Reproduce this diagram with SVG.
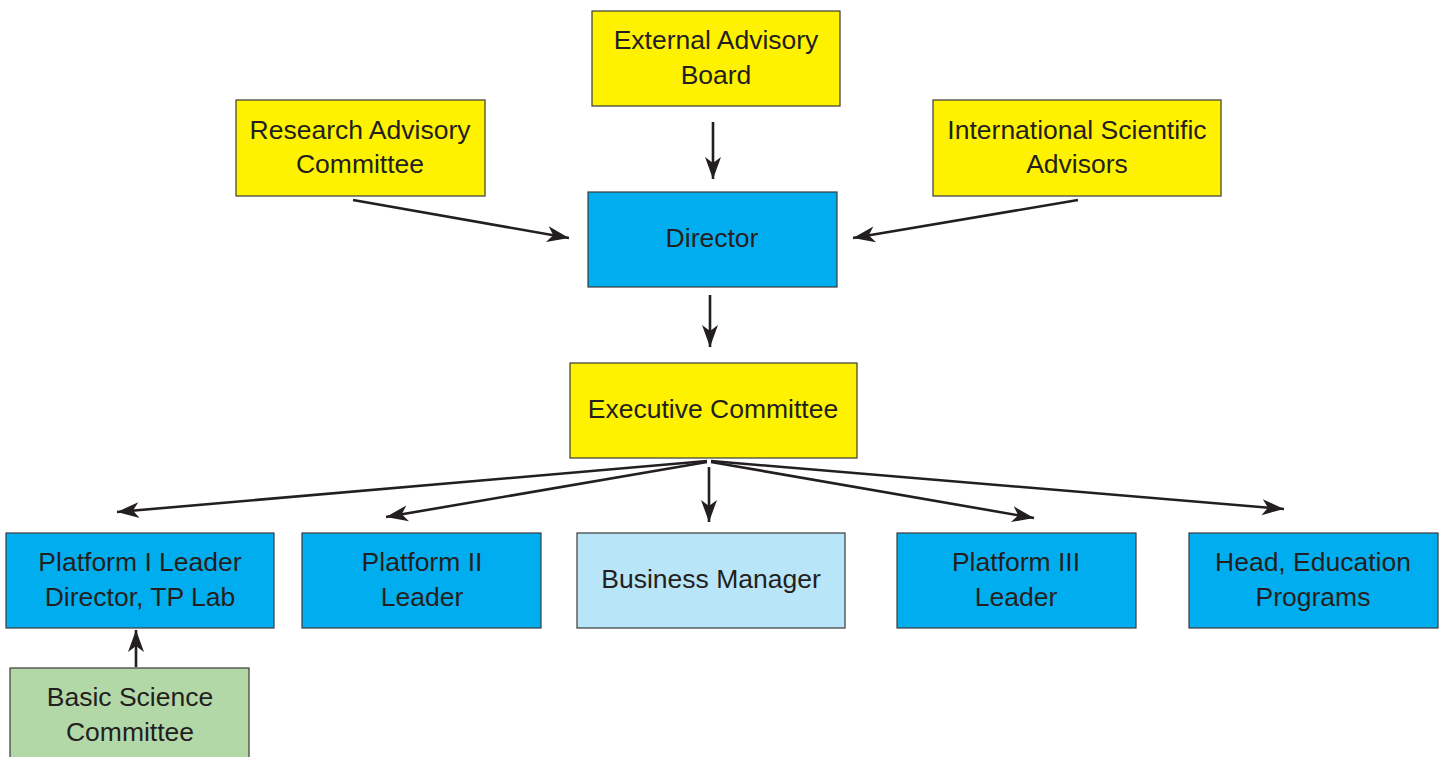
<svg xmlns="http://www.w3.org/2000/svg" width="1440" height="757" viewBox="0 0 1440 757">
<style>
.box{stroke:#3a3a3a;stroke-width:1.2}
.y{fill:#FFF200}
.b{fill:#00AEEF}
.lb{fill:#B9E5F8}
.g{fill:#B3D8A8}
text{font-family:"Liberation Sans",Arial,sans-serif;font-size:26.5px;fill:#231F20;text-anchor:middle}
.c{stroke:#231F20;stroke-width:2.6;fill:none;marker-end:url(#ah)}
</style>
<defs>
<marker id="ah" markerUnits="userSpaceOnUse" markerWidth="26" markerHeight="20" refX="22" refY="9" orient="auto" viewBox="0 0 26 20">
<path d="M22,9 L0,1 L6,9 L0,17 Z" fill="#231F20"/>
</marker>
</defs>
<g id="external-advisory-board"><rect class="box y" x="592" y="11" width="248" height="95"/><text x="716" y="49">External Advisory</text><text x="716" y="84">Board</text></g>
<g id="research-advisory-committee"><rect class="box y" x="236" y="100" width="249" height="96"/><text x="360" y="139">Research Advisory</text><text x="360" y="173">Committee</text></g>
<g id="international-scientific-advisors"><rect class="box y" x="933" y="100" width="288" height="96"/><text x="1077" y="139">International Scientific</text><text x="1077" y="173">Advisors</text></g>
<g id="director"><rect class="box b" x="588" y="192" width="249" height="95"/><text x="712" y="247">Director</text></g>
<g id="executive-committee"><rect class="box y" x="570" y="363" width="287" height="95"/><text x="713" y="418">Executive Committee</text></g>
<g id="platform-1"><rect class="box b" x="6" y="533" width="268" height="95"/><text x="140" y="571">Platform I Leader</text><text x="140" y="606">Director, TP Lab</text></g>
<g id="platform-2"><rect class="box b" x="302" y="533" width="239" height="95"/><text x="422" y="571">Platform II</text><text x="422" y="606">Leader</text></g>
<g id="business-manager"><rect class="box lb" x="577" y="533" width="268" height="95"/><text x="711" y="588">Business Manager</text></g>
<g id="platform-3"><rect class="box b" x="897" y="533" width="239" height="95"/><text x="1016" y="571">Platform III</text><text x="1016" y="606">Leader</text></g>
<g id="head-education"><rect class="box b" x="1189" y="533" width="249" height="95"/><text x="1313" y="571">Head, Education</text><text x="1313" y="606">Programs</text></g>
<g id="basic-science-committee"><rect class="box g" x="10" y="668" width="239" height="100"/><text x="130" y="706">Basic Science</text><text x="130" y="741">Committee</text></g>
<g id="connectors">
<line class="c" x1="713" y1="122" x2="713" y2="179"/>
<line class="c" x1="353" y1="200" x2="569" y2="238"/>
<line class="c" x1="1078" y1="200" x2="853" y2="238"/>
<line class="c" x1="710" y1="295" x2="710" y2="347"/>
<line class="c" x1="707" y1="461" x2="117" y2="512"/>
<line class="c" x1="707" y1="462" x2="386" y2="517"/>
<line class="c" x1="709" y1="467" x2="709" y2="522"/>
<line class="c" x1="711" y1="462" x2="1034" y2="518"/>
<line class="c" x1="711" y1="461" x2="1284" y2="509"/>
<line class="c" x1="136" y1="667" x2="136" y2="630"/>
</g>
</svg>
